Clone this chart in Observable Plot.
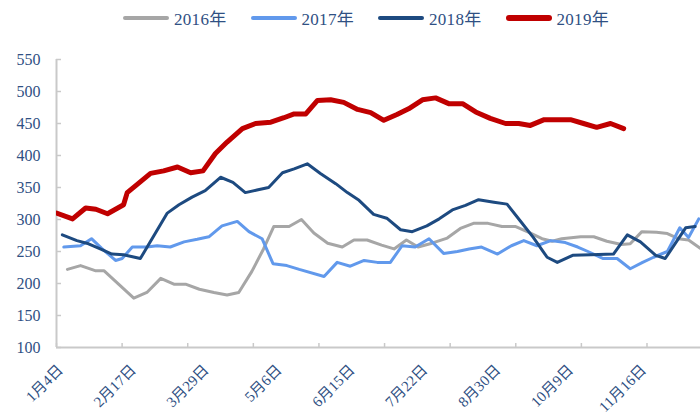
<!DOCTYPE html>
<html>
<head>
<meta charset="utf-8">
<script src="https://cdn.jsdelivr.net/npm/d3@7"></script>
<script src="https://cdn.jsdelivr.net/npm/@observablehq/plot@0.6"></script>
<style>
  html, body { margin: 0; padding: 0; background: #fff; }
  body { width: 700px; height: 419px; overflow: hidden; font-family: "Liberation Serif", "Noto Sans CJK SC", serif; }
  #legend { display: flex; align-items: center; height: 35px; padding-left: 123px; box-sizing: border-box; }
  .item { display: flex; align-items: center; margin-right: 24px; }
  .sw { width: 46px; border-radius: 3px; margin-right: 5px; }
  .lab { font-size: 17px; color: #2F5083; letter-spacing: 0.3px; }
</style>
</head>
<body>
<div id="legend"></div>
<div id="chart"></div>
<script>
// x positions are category positions along the (category) date axis
const seriesNames = ["2016年", "2017年", "2018年", "2019年"];
const seriesColors = ["#A6A6A6", "#6199EC", "#1D4A80", "#C00000"];
const seriesWidths = [3, 3, 3, 5];

const x2016 = [1.5,3.3,5.3,6.5,10.6,12.4,14.3,16.1,17.7,19.6,21.6,23.4,25.0,26.8,28.4,29.8,31.9,33.6,35.3,37.2,39.2,40.8,42.6,44.6,46.3,48.0,49.6,51.5,53.6,55.4,57.2,59.2,61.1,63.0,64.8,66.6,68.0,69.3,71.9,73.7,75.5,77.5,78.7,80.3,82.3,83.8,85.3,86.7,88.3];
const v2016 = [222,228,220,220,177,186,208,199,199,191,186,182,186,219,254,289,289,300,279,263,257,268,268,260,254,268,257,263,271,286,294,294,289,289,280,270,266,270,273,273,266,261,262,281,280,278,270,268,255];

const x2017 = [1.0,3.3,4.8,6.2,8.1,9.0,10.4,12.4,13.8,15.6,17.5,19.3,20.9,22.7,24.8,26.4,28.2,29.7,31.6,33.3,36.7,38.5,40.3,42.2,44.0,45.8,47.4,49.2,51.1,53.1,55.0,56.6,58.3,60.5,62.4,64.1,65.9,67.8,69.8,71.5,72.9,75.0,76.9,78.7,80.4,81.9,83.8,85.5,86.7,88.1];
const v2017 = [257,259,270,255,236,239,257,257,259,257,265,269,273,290,297,281,270,231,228,222,211,233,227,236,233,233,259,257,270,247,250,254,257,246,259,267,259,267,264,257,250,239,239,223,233,241,250,287,272,301];

const x2018 = [0.8,2.8,4.4,6.0,7.6,9.2,11.5,15.2,16.8,18.6,20.4,22.5,24.2,25.9,27.5,29.1,31.0,32.6,34.4,36.2,38.3,39.9,41.5,43.5,45.3,47.2,48.8,50.8,52.5,54.3,56.1,57.9,60.0,61.8,63.6,65.4,67.3,68.7,70.8,73.3,76.4,78.3,80.1,82.2,83.5,86.3,87.6];
const v2018 = [276,267,262,254,246,245,239,310,323,335,345,366,358,342,346,350,373,379,387,372,356,342,330,308,302,284,281,290,301,315,322,331,327,324,298,272,241,233,244,245,246,276,265,244,239,287,289];

const x2019 = [0,2.2,4.0,5.4,7.0,9.2,9.7,11.2,12.9,14.7,16.6,18.4,20.1,21.8,23.4,25.5,27.3,29.4,31.2,32.6,34.2,35.8,37.6,39.4,41.3,43.1,44.9,46.7,48.3,50.2,52.0,53.8,55.7,57.5,59.5,61.6,63.4,65.0,66.9,68.7,70.5,72.3,74.1,76.0,77.8];
const v2019 = [310,301,318,316,309,323,342,356,372,376,382,373,376,403,421,442,450,452,459,465,465,486,487,483,472,467,455,464,473,487,490,481,481,468,458,450,450,447,456,456,456,450,444,450,442];

const xLabels = ["1月4日","2月17日","3月29日","5月6日","6月15日","7月22日","8月30日","10月9日","11月16日"];
const xLabelPos = [0,10,20,30,40,50,60,70,80];
const xTickPos = [0,9,18,27,36,45,54,63,72,81];
const yTicks = [100,150,200,250,300,350,400,450,500,550];

const xs = [x2016, x2017, x2018, x2019];
const vs = [v2016, v2017, v2018, v2019];
const rows = [];
seriesNames.forEach((s, k) => xs[k].forEach((x, i) => rows.push({series: s, x, v: vs[k][i]})));

const axisGray = "#C9C9C9";
const textColor = "#2F5083";

const lines = seriesNames.map((s, k) => Plot.line(rows.filter(d => d.series === s), {
  x: "x", y: "v", stroke: seriesColors[k], strokeWidth: seriesWidths[k],
  strokeLinejoin: "round", strokeLinecap: "round", clip: true
}));

const plot = Plot.plot({
  width: 700,
  height: 384,
  marginLeft: 56,
  marginRight: 0,
  marginTop: 24,
  marginBottom: 72,
  style: { fontFamily: '"Liberation Serif", "Noto Sans CJK SC", serif', fontSize: "16px", color: textColor, background: "#fff", overflow: "visible" },
  x: { domain: [0, 88.34] },
  y: { domain: [100, 550] },
  marks: [
    Plot.axisY(yTicks, { tickSize: 5, dx: 5, tickFormat: () => "", stroke: axisGray, strokeWidth: 1.5, label: null }),
    Plot.axisY(yTicks, { tickSize: 0, tickPadding: 16, fill: textColor, label: null, fontSize: 16, letterSpacing: "1px" }),
    Plot.axisX(xTickPos, { tickSize: 4, dy: -4, tickFormat: () => "", stroke: axisGray, strokeWidth: 1.5, label: null }),
    Plot.axisX(xLabelPos, { tickSize: 0, tickPadding: 20, dx: 4, dy: 0, tickRotate: -45, fill: textColor, label: null, fontSize: 15,
      tickFormat: d => xLabels[xLabelPos.indexOf(d)] }),
    Plot.ruleX([0], { stroke: axisGray, strokeWidth: 2 }),
    Plot.ruleY([100], { stroke: axisGray, strokeWidth: 2 }),
    ...lines
  ]
});
document.getElementById("chart").appendChild(plot);

const legend = document.getElementById("legend");
seriesNames.forEach((s, k) => {
  const it = document.createElement("div");
  it.className = "item";
  const sw = document.createElement("span");
  sw.className = "sw";
  sw.style.background = seriesColors[k];
  sw.style.height = (k === 3 ? 6 : 4) + "px";
  const lb = document.createElement("span");
  lb.className = "lab";
  lb.textContent = s;
  it.appendChild(sw); it.appendChild(lb);
  legend.appendChild(it);
});
</script>
</body>
</html>
